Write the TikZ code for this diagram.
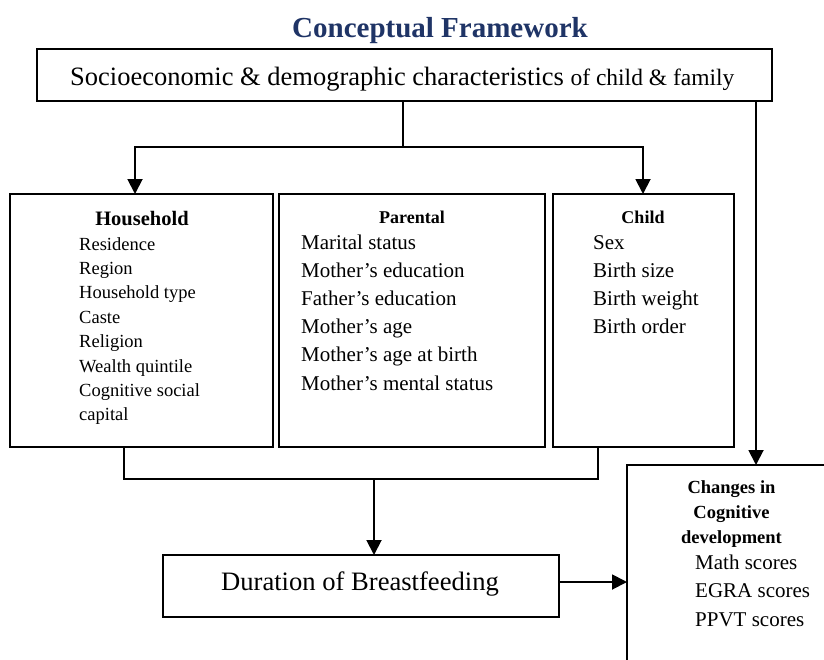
\documentclass[tikz,border=0pt]{standalone}
\usepackage{fontspec}
\setmainfont{Liberation Serif}
\usetikzlibrary{arrows.meta}
\definecolor{titleblue}{RGB}{31,52,102}
\tikzset{
  box/.style={draw, line width=1.4pt, rectangle, outer sep=0pt, inner sep=0pt},
  conn/.style={line width=1.4pt},
  arr/.style={line width=1.9pt, -{Triangle[width=15pt,length=15pt]}},
  itemA/.style={font=\fontsize{18.5}{22}\selectfont, anchor=base west, inner sep=0pt},
  itemB/.style={font=\fontsize{21}{25}\selectfont, anchor=base west, inner sep=0pt},
  headA/.style={font=\bfseries\fontsize{20.5}{24}\selectfont, anchor=base, inner sep=0pt},
  headB/.style={font=\bfseries\fontsize{18}{22}\selectfont, anchor=base, inner sep=0pt},
}
\begin{document}
\begin{tikzpicture}[x=1pt,y=-1pt]
\useasboundingbox (0,0) rectangle (824,659);
\clip (0,0) rectangle (824,659);
\fill[white] (0,0) rectangle (824,659);

% title
\node[font=\bfseries\fontsize{29}{34}\selectfont, text=titleblue, anchor=base, inner sep=0pt] (title) at (440,37) {Conceptual Framework};

% boxes
\node[box, minimum width=735pt, minimum height=52pt] (top) at (404.5,75) {};
\node[font=\fontsize{26.5}{30}\selectfont, anchor=base west, inner sep=0pt] (toptext) at (70,85)
  {Socioeconomic \& demographic characteristics {\fontsize{23.5}{28}\selectfont of child \& family}};

\node[box, minimum width=263pt, minimum height=253pt] (hh) at (141.5,320.5) {};
\node[box, minimum width=266pt, minimum height=253pt] (par) at (412,320.5) {};
\node[box, minimum width=181pt, minimum height=253pt] (child) at (643.5,320.5) {};
\node[box, minimum width=396pt, minimum height=62pt] (dur) at (361,586) {};
\node[box, minimum width=240pt, minimum height=240pt] (ch) at (747,585) {};

% household
\node[headA] (hhhead) at (142,225) {Household};
\foreach \t [count=\i] in {Residence, Region, Household type, Caste, Religion, Wealth quintile, Cognitive social, capital}
  \node[itemA] (hh\i) at (79,{250+(\i-1)*24.4}) {\t};

% parental
\node[headB] (parhead) at (412,223) {Parental};
\foreach \t [count=\i] in {Marital status, Mother’s education, Father’s education, Mother’s age, Mother’s age at birth, Mother’s mental status}
  \node[itemB] (par\i) at (301,{249+(\i-1)*28.2}) {\t};

% child
\node[headB] (chhead) at (643,223) {Child};
\foreach \t [count=\i] in {Sex, Birth size, Birth weight, Birth order}
  \node[itemB] (ci\i) at (593,{249+(\i-1)*28.3}) {\t};

% duration
\node[font=\fontsize{26.6}{30}\selectfont, anchor=base, inner sep=0pt] (durtext) at (360,590) {Duration of Breastfeeding};

% changes
\foreach \t [count=\i] in {Changes in, Cognitive, development}
  \node[headB, font=\bfseries\fontsize{18.5}{22}\selectfont] (cg\i) at (731.5,{493+(\i-1)*25}) {\t};
\foreach \t [count=\i] in {Math scores, EGRA scores, PPVT scores}
  \node[itemB] (cs\i) at (695,{569+(\i-1)*28.5}) {\t};

% connectors
\coordinate (split) at (403,147);
\coordinate (hhin) at (135,194);
\coordinate (chin) at (643,194);
\coordinate (rightin) at (756,465);
\draw[conn] (top.south -| split) -- (split);
\draw[arr] (split) -| (hhin);
\draw[arr] (split) -| (chin);
\draw[arr] (top.south -| rightin) -- (rightin);

\coordinate (jl) at (124,479);
\coordinate (jr) at (598,479);
\coordinate (jm) at (374,479);
\draw[conn] (hh.south -| jl) -- (jl) -- (jr) -- (child.south -| jr);
\draw[arr] (jm) -- (dur.north -| jm);
\draw[arr] ([yshift=4pt]dur.east) -- ([yshift=4pt]dur.east -| ch.west);
\end{tikzpicture}
\end{document}
